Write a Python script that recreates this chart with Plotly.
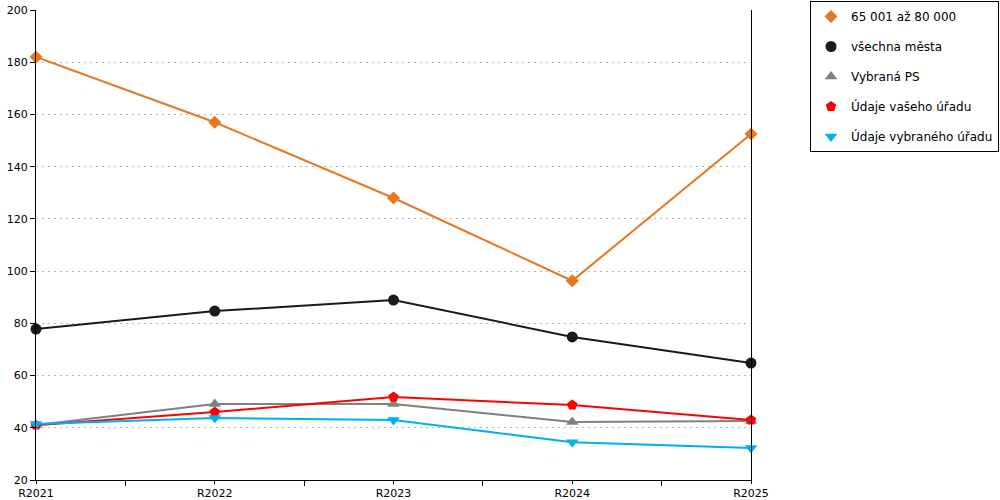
import plotly.graph_objects as go

categories = ["R2021", "R2022", "R2023", "R2024", "R2025"]
s_orange = [182, 157, 128, 96.3, 152.5]
s_black = [77.8, 84.7, 88.9, 74.8, 64.8]
s_gray = [41.1, 49.1, 49.1, 42.2, 42.6]
s_red = [41.0, 46.0, 51.8, 48.7, 43.0]
s_blue = [41.4, 43.7, 43.0, 34.5, 32.3]

names = ["65 001 až 80 000", "všechna města", "Vybraná PS", "Údaje vašeho úřadu", "Údaje vybraného úřadu"]
series = [s_orange, s_black, s_gray, s_red, s_blue]
colors = ["#E8761E", "#1a1a1a", "#808080", "#FF0000", "#00B0F0"]
symbols = ["diamond", "circle", "triangle-up", "pentagon", "triangle-down"]
sizes = [10, 11, 11, 11, 11]

xs = list(range(len(categories)))
fig = go.Figure()
for i, (n, s) in enumerate(zip(names, series)):
    fig.add_trace(go.Scatter(
        x=xs, y=s, name=n, mode="lines", legendgroup=str(i), showlegend=False,
        line=dict(color=colors[i], width=2), cliponaxis=False, hoverinfo="skip",
    ))
    fig.add_trace(go.Scatter(
        x=xs, y=s, name=n, mode="markers", legendgroup=str(i),
        marker=dict(symbol=symbols[i], size=sizes[i], color=colors[i]),
        cliponaxis=False,
    ))

W, H = 1000, 500
L, T = 36, 10
R, B = W - 751, H - 480
PW, PH = W - L - R, H - T - B
fig.update_layout(
    width=W, height=H,
    margin=dict(l=L, r=R, t=T, b=B, autoexpand=False),
    plot_bgcolor="white", paper_bgcolor="white",
    font=dict(family="DejaVu Sans", size=11, color="black"),
    legend=dict(x=(810 - L) / PW, y=1 + (T - 1) / PH, xanchor="left", yanchor="top",
                bordercolor="black", borderwidth=1, tracegroupgap=11, itemwidth=30,
                font=dict(size=12)),
)
fig.update_xaxes(
    range=[0, 4], tickvals=xs, ticktext=categories, showgrid=False,
    showline=True, linecolor="black", linewidth=1, automargin=False,
    ticks="outside", ticklen=3, tickcolor="black",
    minor=dict(ticks="outside", tickvals=[0.5, 1.5, 2.5, 3.5], ticklen=5, tickcolor="black", showgrid=False),
    zeroline=False,
)
fig.update_yaxes(
    range=[20, 200], dtick=20, tick0=0, showgrid=True, gridcolor="#b4b4b4", griddash="2px,4px",
    showline=True, linecolor="black", linewidth=1, mirror=True, automargin=False,
    ticks="outside", ticklen=5, tickcolor="black", zeroline=False,
)
fig.write_html("out.html", config={"displayModeBar": False},
               post_script="document.body.style.margin='0';")
